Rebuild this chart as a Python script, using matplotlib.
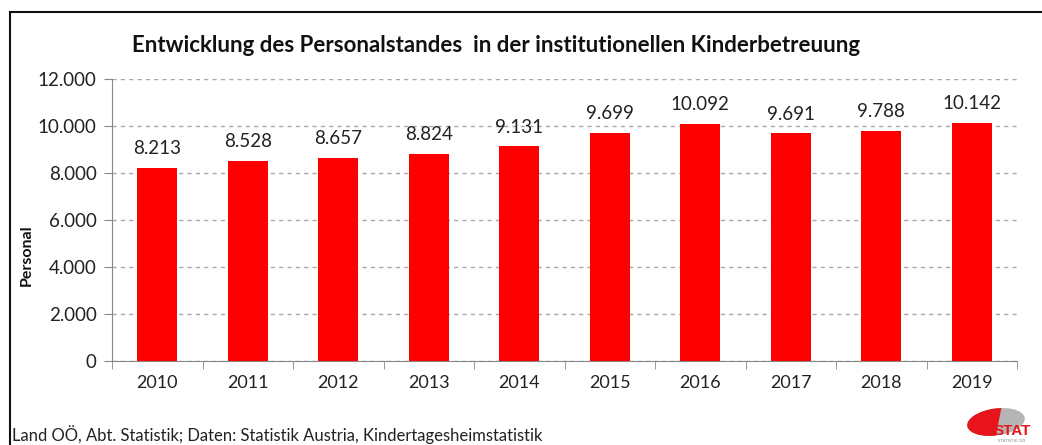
import matplotlib
matplotlib.use("Agg")
import matplotlib.pyplot as plt
from matplotlib.patches import Rectangle, Polygon, Ellipse
from matplotlib.ticker import FuncFormatter, MultipleLocator

years = ["2010", "2011", "2012", "2013", "2014", "2015", "2016", "2017", "2018", "2019"]
personal = [8213, 8528, 8657, 8824, 9131, 9699, 10092, 9691, 9788, 10142]

title = "Entwicklung des Personalstandes  in der institutionellen Kinderbetreuung"
ylabel = "Personal"
source = "Land OÖ, Abt. Statistik; Daten: Statistik Austria, Kindertagesheimstatistik"

plt.rcParams["font.family"] = ["Lato", "DejaVu Sans"]


def de_fmt(v):
    return f"{int(round(v)):,}".replace(",", ".")


W, H = 1042, 445
fig = plt.figure(figsize=(W / 100, H / 100), dpi=100)
ax = fig.add_axes([112 / W, 1 - 361 / H, (1017 - 112) / W, (361 - 79) / H])

x = list(range(len(years)))
ax.bar(x, personal, width=0.44, color="#ff0000", zorder=3)
for xi, v in zip(x, personal):
    ax.text(xi, v + 450, de_fmt(v), ha="center", va="bottom", fontsize=13.5, color="#222222")

ax.set_xlim(-0.5, len(years) - 0.5)
ax.set_ylim(0, 12000)
ax.yaxis.set_major_locator(MultipleLocator(2000))
ax.yaxis.set_major_formatter(FuncFormatter(lambda v, p: de_fmt(v)))
ax.grid(axis="y", color="#a8a8a8", ls=(0, (3, 3)), lw=1.0, zorder=0)

ax.set_xticks(x)
ax.set_xticklabels(years)
ax.set_xticks([i - 0.5 for i in range(len(years) + 1)], minor=True)
ax.tick_params(axis="x", which="major", length=0, labelsize=13, pad=10, colors="#222222")
ax.tick_params(axis="x", which="minor", length=6, color="#888888")
ax.tick_params(axis="y", length=6, color="#888888", labelsize=13.5, labelcolor="#222222", pad=5)

for s in ["top", "right"]:
    ax.spines[s].set_visible(False)
for s in ["left", "bottom"]:
    ax.spines[s].set_color("#888888")

fig.text(27 / W, 1 - 255 / H, ylabel, rotation=90, ha="center", va="center", fontsize=11.5,
         fontweight="bold", color="#111111")
fig.text(496 / W, 1 - 45 / H, title, ha="center", va="center", fontsize=16, fontweight="bold",
         color="#111111")
fig.text(12 / W, 1 - 435 / H, source, ha="left", va="center", fontsize=12, color="#222222")

# outer frame of the original graphic
fig.patches.append(Rectangle((10 / W, -0.1), 1.2, 1.1 - 12 / H, transform=fig.transFigure,
                             fill=False, ec="#111111", lw=1.5))

# small STAT logo bottom right (pixel coordinates of the figure)
lax = fig.add_axes([0, 0, 1, 1], zorder=5)
lax.set_xlim(0, W)
lax.set_ylim(H, 0)
lax.axis("off")
oval = Ellipse((996, 422), 58, 27, angle=-8, fc="#b5b5b5", ec="none")
lax.add_patch(oval)
red = Polygon([(960, 400), (1003, 400), (993, 450), (960, 450)], fc="#e8141c", ec="none")
lax.add_patch(red)
red.set_clip_path(oval)
lax.text(1012, 431, "STAT", fontsize=11, fontweight="black", color="#e8141c", ha="center",
         va="center", family="Liberation Sans")
lax.text(1012, 441, "STATISTIK OÖ", fontsize=3, color="#888888", ha="center", va="center")

fig.savefig("out.png", dpi=100)
